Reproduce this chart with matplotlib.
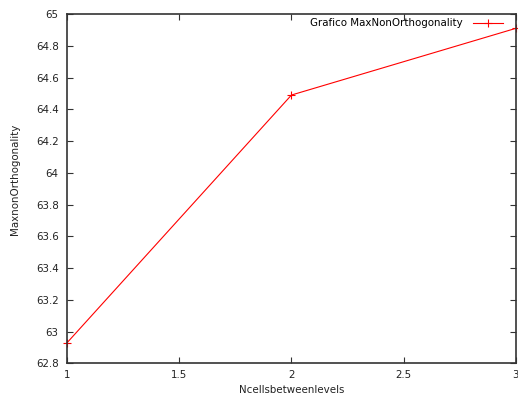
import matplotlib
matplotlib.use('Agg')
import matplotlib.pyplot as plt

# refinement levels vs max non-orthogonality
ncells = [1, 2, 3]
max_non_orth = [62.93, 64.49, 64.91]
xticks = [1, 1.5, 2, 2.5, 3]
yticks = [62.8, 63, 63.2, 63.4, 63.6, 63.8, 64, 64.2, 64.4, 64.6, 64.8, 65]

plt.rcParams['font.family'] = 'DejaVu Sans'
plt.rcParams['font.size'] = 7.4

fig = plt.figure(figsize=(5.18, 3.98), dpi=100)
ax = fig.add_axes([0.1293, 0.0867, 0.8668, 0.8781])

ax.plot(ncells, max_non_orth, color='#ff0000', lw=0.8, marker='+', ms=6,
        mew=0.8, label='Grafico MaxNonOrthogonality', clip_on=False)

ax.set_xlim(1, 3)
ax.set_ylim(62.8, 65)
ax.set_xticks(xticks)
ax.set_xticklabels(['1', '1.5', '2', '2.5', '3'])
ax.set_yticks(yticks)
ax.set_yticklabels(['%g' % v for v in yticks])

ax.tick_params(direction='in', top=True, right=True, length=4, width=0.8,
               colors='#333333', labelcolor='#222222', pad=6)
ax.tick_params(axis='x', pad=5)
for s in ax.spines.values():
    s.set_color('#333333')
    s.set_linewidth(1.2)

ax.set_xlabel('Ncellsbetweenlevels', color='#222222', labelpad=3)
ax.set_ylabel('MaxnonOrthogonality', color='#222222')
ax.yaxis.set_label_coords(-0.105, 0.528)

ax.legend(loc='upper right', bbox_to_anchor=(0.98, 1.0), frameon=False,
          markerfirst=False, handlelength=2.9, handletextpad=1.0,
          borderaxespad=0)

fig.savefig('out.png', dpi=100)
